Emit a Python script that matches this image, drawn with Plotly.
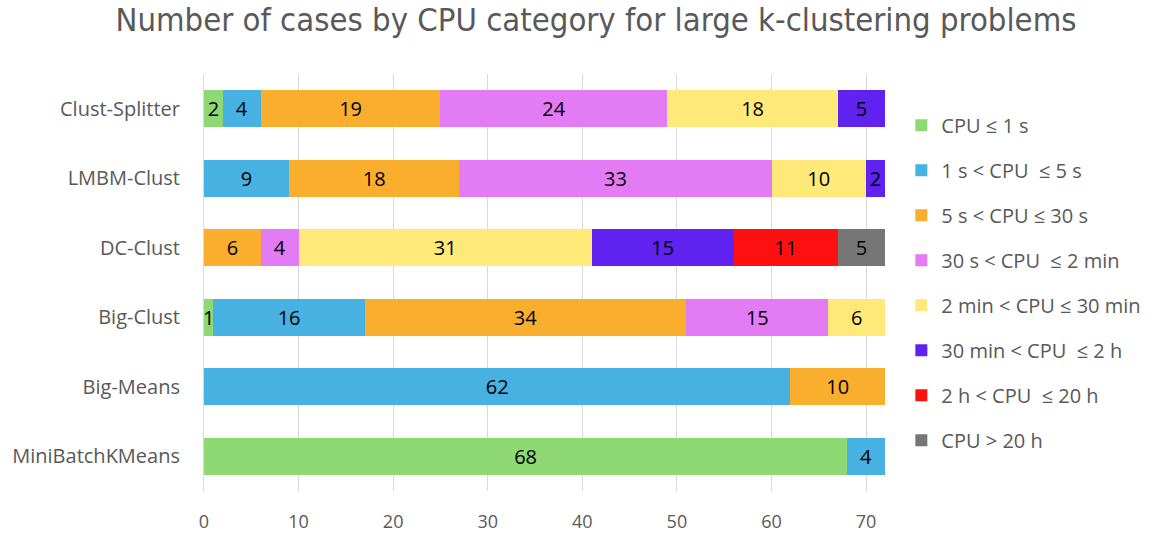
import plotly.graph_objects as go

categories = ["Clust-Splitter", "LMBM-Clust", "DC-Clust", "Big-Clust", "Big-Means", "MiniBatchKMeans"]
series_names = ["CPU ≤ 1 s", "1 s < CPU  ≤ 5 s", "5 s < CPU ≤ 30 s", "30 s < CPU  ≤ 2 min",
                "2 min < CPU ≤ 30 min", "30 min < CPU  ≤ 2 h", "2 h < CPU  ≤ 20 h", "CPU > 20 h"]
cpu_le_1s = [2, 0, 0, 1, 0, 68]
cpu_1_5s = [4, 9, 0, 16, 62, 4]
cpu_5_30s = [19, 18, 6, 34, 10, 0]
cpu_30s_2min = [24, 33, 4, 15, 0, 0]
cpu_2_30min = [18, 10, 31, 6, 0, 0]
cpu_30min_2h = [5, 2, 15, 0, 0, 0]
cpu_2_20h = [0, 0, 11, 0, 0, 0]
cpu_gt_20h = [0, 0, 5, 0, 0, 0]
colors = ["#8ED973", "#47B1E1", "#FAAE2E", "#E37BF5", "#FFE979", "#6023EF", "#FF1010", "#767676"]
x_ticks = [0, 10, 20, 30, 40, 50, 60, 70]

all_series = [cpu_le_1s, cpu_1_5s, cpu_5_30s, cpu_30s_2min, cpu_2_30min, cpu_30min_2h, cpu_2_20h, cpu_gt_20h]

FONT = "Open Sans, Lato, sans-serif"

fig = go.Figure()
for i, (name, vals, col) in enumerate(zip(series_names, all_series, colors)):
    text = [str(v) if v > 0 else "" for v in vals]
    fig.add_trace(go.Bar(
        y=categories, x=vals, name=name, orientation="h",
        marker=dict(color=col, line=dict(width=0)),
        text=text, texttemplate="%{text}", textposition="inside",
        insidetextanchor="middle", textangle=0,
        textfont=dict(color="black", size=20, family=FONT),
        legendgroup=f"g{i}",
    ))

fig.update_layout(
    barmode="stack",
    bargap=0.47,
    width=1155, height=534,
    margin=dict(l=204, r=270, t=74, b=43, autoexpand=False),
    paper_bgcolor="white", plot_bgcolor="white",
    title=dict(text="Number of cases by CPU category for large k-clustering problems",
               x=0.516, xanchor="center", y=0.963, yanchor="middle",
               font=dict(size=32.6, color="#595959", family="Liberation Sans Narrow, DejaVu Sans Condensed, sans-serif")),
    uniformtext=dict(minsize=20, mode="show"),
    legend=dict(
        x=1.024, xanchor="left", y=0.924, yanchor="top",
        font=dict(size=20, color="#595959", family=FONT),
        tracegroupgap=16, traceorder="grouped",
        bgcolor="rgba(0,0,0,0)",
    ),
    showlegend=True,
)
fig.update_xaxes(
    range=[0, 72], tickvals=x_ticks, showgrid=True, gridcolor="#D9D9D9", gridwidth=1,
    zeroline=False, showline=False, ticks="", automargin=False,
    tickfont=dict(size=18, color="#595959", family=FONT),
    ticklabelstandoff=18, fixedrange=True,
)
fig.update_yaxes(
    categoryorder="array", categoryarray=categories, autorange="reversed",
    showline=True, linecolor="#D9D9D9", linewidth=1, showgrid=False, ticks="", automargin=False,
    tickfont=dict(size=20, color="#595959", family=FONT),
    ticklabelstandoff=19,
)

fig.write_html("out.html", config={"displayModeBar": False},
               post_script="document.body.style.margin='0';")
